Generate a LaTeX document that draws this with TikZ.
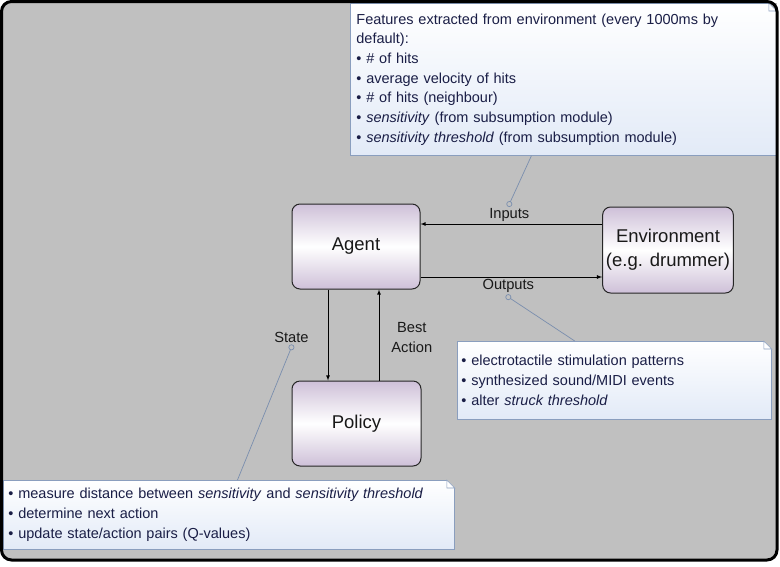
\documentclass[tikz,border=0pt]{standalone}
\usepackage{fontspec}
\setmainfont{Liberation Sans}
\usepackage{tikz}
\usetikzlibrary{shapes.geometric, arrows, positioning, calc}

\definecolor{panelgray}{RGB}{192,192,192}
\definecolor{boxlilac}{RGB}{206,192,216}
\definecolor{noteblue}{RGB}{226,234,247}
\definecolor{noteedge}{RGB}{138,158,190}
\definecolor{notetext}{RGB}{26,30,70}
\definecolor{pinline}{RGB}{122,142,174}

\tikzset{
  block/.style={draw=black!85, line width=1pt, rounded corners=8pt,
    minimum width=128pt, minimum height=85pt,
    top color=boxlilac, bottom color=boxlilac, middle color=white,
    font=\fontsize{18.5}{24}\selectfont, align=center, text=black!90},
  note/.style={draw=noteedge, line width=0.8pt, top color=white, bottom color=noteblue,
    anchor=north west, align=left, text=notetext, inner xsep=6pt,
    font=\fontsize{14.5}{19.7}\selectfont},
  lbl/.style={font=\fontsize{14.7}{20}\selectfont, align=center, inner sep=1pt, text=black!90},
  flow/.style={-latex, line width=0.8pt},
  pinline/.style={draw=pinline, line width=0.7pt},
}

% dog-ear on the top right corner of a note
\newcommand{\notefold}[1]{%
  \fill[panelgray] ($(#1.north east)+(-8,0)$) -- (#1.north east) -- ($(#1.north east)+(0,8)$) -- cycle;
  \draw[noteedge, line width=0.6pt, fill=white] ($(#1.north east)+(-8,0)$) -- ($(#1.north east)+(-8,8)$) -- ($(#1.north east)+(0,8)$) -- cycle;
}

\begin{document}
\begin{tikzpicture}[x=1pt, y=-1pt]
\useasboundingbox (0,0) rectangle (780,566);
% Panel
\fill[panelgray, rounded corners=10pt] (1.5,1.5) rectangle (777,560);

% Blocks
\node[block] (agent) at (356,246.5) {\raisebox{-2pt}{Agent}};
\node[block, minimum height=86pt] (env) at (668,250) {Environment\\(e.g. drummer)};
\node[block, minimum width=129pt] (policy) at (356.5,423.5) {\raisebox{-2pt}{Policy}};

% Inputs / Outputs
\draw[flow] ([yshift=26pt]env.west) coordinate (inA) -- (inA -| agent.east)
  node[lbl, midway, above=1pt, xshift=-2pt] (inlbl) {Inputs};
\draw[flow] ([yshift=-30.5pt]agent.east) coordinate (outA) -- (outA -| env.west)
  node[lbl, midway, below=1pt, xshift=-3pt] (outlbl) {Outputs};

% State / Best Action
\draw[flow] ([xshift=-28pt]agent.south) coordinate (stA) -- (stA |- policy.north)
  node[lbl, pos=0.53, left=18pt] (stlbl) {State};
\draw[flow] ([xshift=22.5pt]policy.north) coordinate (bestA) -- (bestA |- agent.south)
  node[lbl, pos=0.47, right=11pt] (bestlbl) {Best\\Action};

% Notes
\node[note, text width=414pt, minimum height=152pt] (features) at (350,3)
  {Features extracted from environment (every 1000ms by\\
   default):\\
   • \# of hits\\
   • average velocity of hits\\
   • \# of hits (neighbour)\\
   • \textit{sensitivity} (from subsumption module)\\
   • \textit{sensitivity threshold} (from subsumption module)};
\notefold{features}

\node[note, text width=306pt, minimum height=78pt, inner xsep=4pt] (outputs) at (457,341)
  {• electrotactile stimulation patterns\\
   • synthesized sound/MIDI events\\
   • alter \textit{struck threshold}};
\notefold{outputs}

\node[note, text width=441pt, minimum height=69pt, inner xsep=5pt] (policynote) at (3,480)
  {• measure distance between \textit{sensitivity} and \textit{sensitivity threshold}\\
   • determine next action\\
   • update state/action pairs (Q-values)};
\notefold{policynote}

% Pins from notes to labels
\coordinate (inpin) at ([yshift=3pt]inlbl.north);
\coordinate (outpin) at ([yshift=-3pt]outlbl.south);
\coordinate (stpin) at ([yshift=-3pt]stlbl.south);
\draw[pinline] ($(features.south west)!0.425!(features.south east)$) -- (inpin);
\draw[pinline] ($(outputs.north west)!0.374!(outputs.north east)$) -- (outpin);
\draw[pinline] ($(policynote.north west)!0.519!(policynote.north east)$) -- (stpin);
\foreach \p in {inpin, outpin, stpin}
  \draw[pinline, fill=panelgray] (\p) circle (2.6pt);

% Panel border
\draw[line width=3pt, rounded corners=10pt] (1.5,1.5) rectangle (777,560);
\end{tikzpicture}
\end{document}
